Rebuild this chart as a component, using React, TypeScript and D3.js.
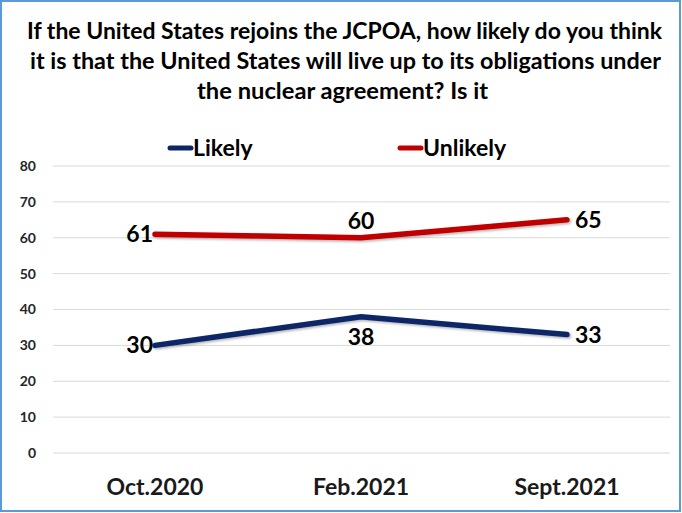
import React from "react";
import * as d3 from "d3";

const W = 682;
const H = 513;

const categories = ["Oct.2020", "Feb.2021", "Sept.2021"];
const likely = [30, 38, 33];
const unlikely = [61, 60, 65];
const yTicks = [0, 10, 20, 30, 40, 50, 60, 70, 80];
const titleLines = [
  "If the United States rejoins the JCPOA, how likely do you think",
  "it is that the United States will live up to its obligations under",
  "the nuclear agreement? Is it",
];
const seriesNames = ["Likely", "Unlikely"];
const seriesColors = ["#0B2567", "#C00000"];

const FONT = "Lato, 'Open Sans', 'DejaVu Sans', sans-serif";

export default function App() {
  const x = d3.scalePoint<string>().domain(categories).range([52, 670]).padding(0.5);
  const y = d3.scaleLinear().domain([0, 80]).range([453, 166]);

  const line = d3
    .line<number>()
    .x((_, i) => x(categories[i]) as number)
    .y((d) => y(d));

  const series = [likely, unlikely];

  const labelPos = (si: number, i: number): [number, number, string] => {
    if (i === 0) return [-2, 8, "end"];
    if (i === 2) return [8, 8, "start"];
    return si === 0 ? [0, 28, "middle"] : [0, -9, "middle"];
  };

  const titleBounds = [
    [27, 662],
    [30, 661],
    [197, 488],
  ];
  const titleBase = [39, 69, 99];

  return (
    <svg
      width={W}
      height={H}
      style={{ position: "absolute", left: 0, top: 0, background: "#fff" }}
      fontFamily={FONT}
    >
      <defs>
        <filter id="sh" x="-5%" y="-50%" width="110%" height="200%">
          <feDropShadow dx="1.5" dy="1.5" stdDeviation="1" floodColor="#000" floodOpacity="0.3" />
        </filter>
      </defs>
      <rect x={0} y={0} width={W} height={H} fill="#fff" />
      <rect x={1} y={1} width={679} height={510} fill="none" stroke="#5B9BD5" strokeWidth={2} />

      {titleLines.map((t, i) => (
        <text
          key={i}
          x={titleBounds[i][0]}
          y={titleBase[i]}
          fontSize={22}
          fontWeight="bold"
          fill="#000"
          textLength={titleBounds[i][1] - titleBounds[i][0]}
          lengthAdjust="spacingAndGlyphs"
        >
          {t}
        </text>
      ))}

      {seriesNames.map((n, i) => {
        const lx = i === 0 ? 170 : 400;
        return (
          <g key={n}>
            <line
              x1={lx}
              x2={lx + 21}
              y1={148}
              y2={148}
              stroke={seriesColors[i]}
              strokeWidth={5}
              strokeLinecap="round"
            />
            <text x={lx + 23} y={156} fontSize={23} fontWeight="bold" fill="#000">
              {n}
            </text>
          </g>
        );
      })}

      {yTicks.map((t) => (
        <g key={t}>
          <line x1={53} x2={670} y1={y(t)} y2={y(t)} stroke="#D9D9D9" strokeWidth={1} />
          <text
            x={36}
            y={y(t)}
            dy="0.35em"
            textAnchor="end"
            fontSize={14}
            fontWeight="bold"
            fill="#262626"
          >
            {t}
          </text>
        </g>
      ))}

      {categories.map((c) => (
        <text
          key={c}
          x={x(c) as number}
          y={495}
          textAnchor="middle"
          fontSize={23}
          fontWeight="bold"
          fill="#1a1a1a"
        >
          {c}
        </text>
      ))}

      {series.map((s, si) => (
        <path
          key={si}
          d={line(s) as string}
          fill="none"
          stroke={seriesColors[si]}
          strokeWidth={5.5}
          strokeLinecap="round"
          strokeLinejoin="round"
          filter="url(#sh)"
        />
      ))}

      {series.map((s, si) =>
        s.map((v, i) => {
          const [dx, dy, anchor] = labelPos(si, i);
          return (
            <text
              key={`${si}-${i}`}
              x={(x(categories[i]) as number) + dx}
              y={y(v) + dy}
              textAnchor={anchor as any}
              fontSize={23}
              fontWeight="bold"
              fill="#000"
            >
              {v}
            </text>
          );
        })
      )}
    </svg>
  );
}
